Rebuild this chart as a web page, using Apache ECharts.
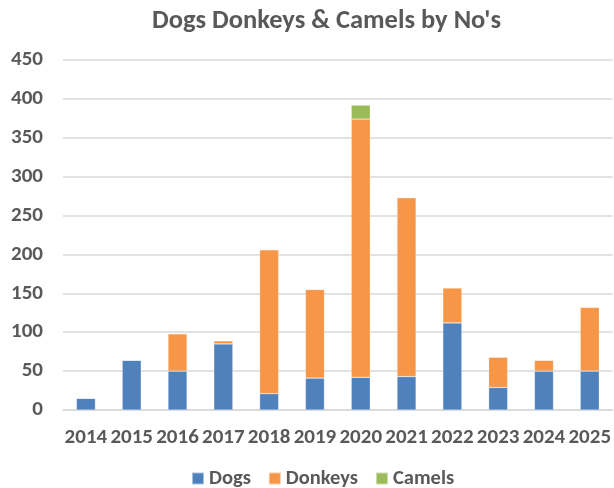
<!DOCTYPE html>
<html><head><meta charset="utf-8">
<script src="https://cdn.jsdelivr.net/npm/echarts@6/dist/echarts.min.js"></script>
<style>html,body{margin:0;padding:0;background:#fff}#c{width:614px;height:488px}</style>
</head><body><div id="c"></div>
<script>
const categories = ['2014','2015','2016','2017','2018','2019','2020','2021','2022','2023','2024','2025'];
const dogs    = [15, 64, 50, 85, 21, 41, 42, 43, 112, 29, 50, 50];
const donkeys = [0, 0, 48, 4, 185, 114, 332, 230, 45, 39, 14, 82];
const camels  = [0, 0, 0, 0, 0, 0, 18, 0, 0, 0, 0, 0];
const yTicks = {min: 0, max: 450, interval: 50};

const font = 'Carlito, "Open Sans", "Liberation Sans", sans-serif';
const chart = echarts.init(document.getElementById('c'));
const mk = (name, data, color) => ({
  name, type: 'bar', stack: 'total', data, barWidth: 19,
  itemStyle: {color, borderColor: 'rgba(255,255,255,0.5)', borderWidth: 0.5},
  emphasis: {disabled: true}
});
chart.setOption({
  animation: false,
  title: {text: "Dogs Donkeys & Camels by No's", left: 147, top: 3,
    textStyle: {fontFamily: font, fontSize: 26.5, fontWeight: 'bold', color: '#595959'}},
  legend: {top: 463, left: 186, itemWidth: 12, itemHeight: 12, itemGap: 17,
    icon: 'rect',
    textStyle: {fontFamily: font, fontSize: 20.5, fontWeight: 'bold', color: '#595959'}},
  grid: {left: 63, right: 0, top: 60, bottom: 78},
  xAxis: {type: 'category', data: categories,
    axisLine: {lineStyle: {color: '#d9d9d9', width: 1.5}}, axisTick: {show: false},
    axisLabel: {fontFamily: font, fontSize: 21, fontWeight: 'bold', color: '#595959', margin: 17, interval: 0}},
  yAxis: {type: 'value', min: yTicks.min, max: yTicks.max, interval: yTicks.interval,
    axisLine: {show: false}, axisTick: {show: false},
    splitLine: {lineStyle: {color: '#d9d9d9', width: 1.5}},
    axisLabel: {fontFamily: font, fontSize: 21, fontWeight: 'bold', color: '#595959', margin: 20}},
  series: [mk('Dogs', dogs, '#4f81bd'), mk('Donkeys', donkeys, '#f79646'), mk('Camels', camels, '#9bbb59')]
});
</script></body></html>
